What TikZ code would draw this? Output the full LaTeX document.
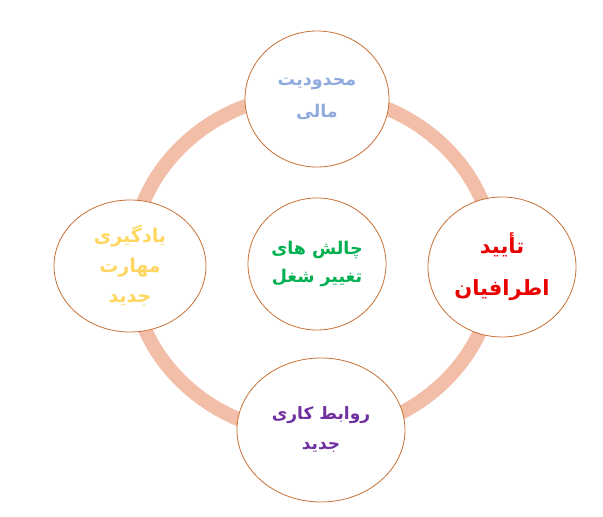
\documentclass[tikz,border=0pt]{standalone}
\usepackage{fontspec}
\usetikzlibrary{shapes.geometric}
\TeXXeTstate=1
\newfontfamily\arabicfont[Script=Arabic]{DejaVu Sans}
\definecolor{ringc}{RGB}{242,190,168}
\definecolor{edgec}{RGB}{200,112,52}
\definecolor{topc}{RGB}{143,170,220}
\definecolor{midc}{RGB}{0,176,80}
\definecolor{leftc}{RGB}{255,214,96}
\definecolor{rightc}{RGB}{235,0,0}
\definecolor{botc}{RGB}{112,48,160}
\begin{document}
\begin{tikzpicture}[x=1pt,y=1pt,
  bub/.style={ellipse, draw=edgec, line width=0.8pt, fill=white, inner sep=0pt, align=center},
  ring/.style={draw=ringc, line width=14pt}]
\useasboundingbox (0,0) rectangle (603,517);
\coordinate (c) at (313,253);
\draw[ring] (c) ellipse [x radius=182, y radius=170];
\node[bub, minimum width=144, minimum height=136, text=topc,
  font=\arabicfont\bfseries\fontsize{17.5}{32}\selectfont] (top) at (317,418)
  {\beginR محدودیت\endR\\\beginR مالی\endR};
\node[bub, minimum width=138, minimum height=132, text=midc,
  font=\arabicfont\bfseries\fontsize{17.5}{28}\selectfont] (mid) at (317,253)
  {\beginR چالش های\endR\\\beginR تغییر شغل\endR};
\node[bub, minimum width=152, minimum height=132, text=leftc,
  font=\arabicfont\bfseries\fontsize{19}{30}\selectfont] (left) at (130,251)
  {\beginR یادگیری\endR\\\beginR مهارت\endR\\\beginR جدید\endR};
\node[bub, minimum width=148, minimum height=140, text=rightc,
  font=\arabicfont\bfseries\fontsize{21}{42}\selectfont] (right) at (502,250)
  {\beginR تأیید\endR\\\beginR اطرافیان\endR};
\node[bub, minimum width=168, minimum height=144, text=botc,
  font=\arabicfont\bfseries\fontsize{17}{30}\selectfont] (bot) at (321,87)
  {\beginR روابط کاری\endR\\\beginR جدید\endR};
\end{tikzpicture}
\end{document}
